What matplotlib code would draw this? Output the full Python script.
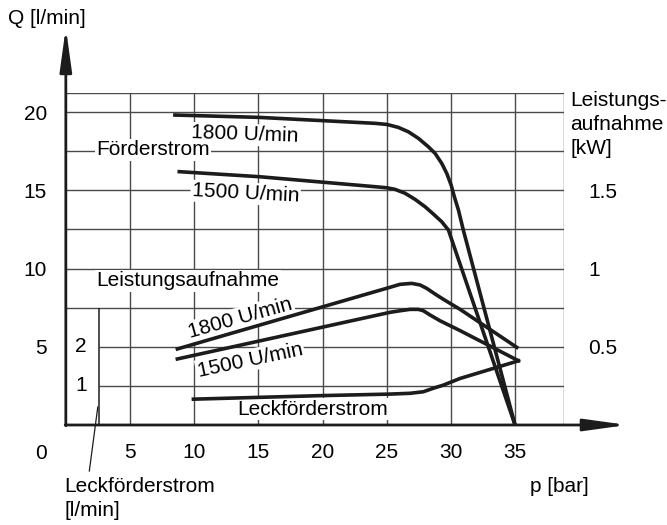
import numpy as np
import matplotlib
matplotlib.use('Agg')
import matplotlib.pyplot as plt

plt.rcParams['font.family'] = ['Liberation Sans', 'DejaVu Sans']
plt.rcParams['font.size'] = 15

# Foerderstrom Q [l/min] ueber Druck p [bar]
p_q1800 = [8.5, 15.05, 24.09, 25.01, 25.91, 26.69, 27.47, 28.25, 28.77, 29.29, 29.68,
           30.02, 30.27, 30.59, 30.97, 35.0]
q_1800 = [19.81, 19.66, 19.28, 19.21, 19.02, 18.74, 18.32, 17.78, 17.36, 16.72, 16.08,
          15.34, 14.59, 13.74, 12.46, 0.0]
p_q1500 = [8.84, 15.05, 24.09, 25.01, 25.65, 26.43, 27.21, 27.99, 28.64, 29.29, 29.81, 35.0]
q_1500 = [16.19, 15.87, 15.23, 15.16, 15.06, 14.81, 14.42, 13.95, 13.48, 12.99, 12.46, 0.0]

# Leistungsaufnahme [kW]
p_pw1800 = [8.69, 25.26, 26.04, 26.95, 27.6, 28.12, 28.77, 29.42, 30.72, 35.14]
pw_1800 = [0.486, 0.880, 0.899, 0.905, 0.895, 0.873, 0.837, 0.803, 0.739, 0.496]
p_pw1500 = [8.69, 25.26, 26.04, 26.82, 27.47, 27.86, 28.38, 29.16, 30.72, 35.26]
pw_1500 = [0.422, 0.720, 0.730, 0.739, 0.739, 0.730, 0.703, 0.666, 0.603, 0.411]

# Leckfoerderstrom [l/min]
p_leak = [9.94, 19.81, 25.26, 26.82, 27.86, 28.64, 29.42, 30.72, 35.26]
leak = [0.66, 0.75, 0.79, 0.81, 0.85, 0.94, 1.02, 1.19, 1.64]

p_ticks = [5, 10, 15, 20, 25, 30, 35]
q_ticks = [5, 10, 15, 20]
kw_ticks = [0.5, 1, 1.5]
kw_labels = ['0.5', '1', '1.5']
leak_ticks = [1, 2]

# scale factors for the secondary scales drawn in the Q grid
KW_TO_Q = 10.0
LEAK_TO_Q = 2.5
P_MAX, Q_MAX = 38.78, 21.25
LEAK_AXIS_X = 2.55

fig = plt.figure(figsize=(6.67, 5.25), dpi=100)
ax = fig.add_axes([0.0987, 0.1905, 0.7462, 0.6333])
ax.set_xlim(0, P_MAX)
ax.set_ylim(0, Q_MAX)
for s in ax.spines.values():
    s.set_visible(False)

ink = '#1c1c1c'
grid_c = '#4a4a4a'

# grid
ax.vlines(p_ticks + [P_MAX], 0, Q_MAX, color=grid_c, lw=1.0, zorder=1)
h_full = np.arange(7.5, 21, 2.5)
ax.hlines(list(h_full) + [Q_MAX], 0, P_MAX, color=grid_c, lw=1.0, zorder=1)
ax.hlines([2.5, 5.0], LEAK_AXIS_X, P_MAX, color=grid_c, lw=1.0, zorder=1)
# leak flow scale
ax.vlines(LEAK_AXIS_X, 0, 7.5, color=ink, lw=1.1, zorder=1)
ax.plot([2.49, 1.83], [1.15, -2.94], color=ink, lw=0.9, clip_on=False)
for v in leak_ticks:
    ax.text(1.2, v * LEAK_TO_Q, str(v), ha='center', va='center')

# axes with arrows
arrow = dict(arrowstyle='-|>,head_length=1.3,head_width=0.18', lw=2, color=ink,
             mutation_scale=20, shrinkA=0, shrinkB=0)
ax.annotate('', xy=(0, 25.4), xytext=(0, -0.05), annotation_clip=False, arrowprops=arrow)
ax.annotate('', xy=(43.75, 0), xytext=(-0.05, 0), annotation_clip=False, arrowprops=arrow)

ax.set_xticks(p_ticks)
ax.set_yticks(q_ticks)
ax.tick_params(axis='x', length=0, pad=13)
ax.tick_params(axis='y', length=0, pad=13.5)
ax.text(-1.46, -1.8, '0', ha='right', va='center')

ax2 = ax.twinx()
ax2.set_ylim(0, Q_MAX / KW_TO_Q)
for s in ax2.spines.values():
    s.set_visible(False)
ax2.set_yticks(kw_ticks)
ax2.set_yticklabels(kw_labels)
ax2.tick_params(axis='y', length=0, pad=18)

# curves
cw = 2.6
ax.plot(p_q1800, q_1800, color=ink, lw=cw, zorder=5, solid_joinstyle='round')
ax.plot(p_q1500, q_1500, color=ink, lw=cw, zorder=5, solid_joinstyle='round')
ax.plot(p_leak, np.array(leak) * LEAK_TO_Q, color=ink, lw=cw, zorder=5,
        solid_joinstyle='round')
ax2.plot(p_pw1800, pw_1800, color=ink, lw=cw, zorder=5, solid_joinstyle='round')
ax2.plot(p_pw1500, pw_1500, color=ink, lw=cw, zorder=5, solid_joinstyle='round')

box = dict(fc='white', ec='none', pad=1.0)
ax.text(6.8, 17.6, 'Förderstrom', ha='center', va='center', bbox=box, zorder=3)
ax.text(13.96, 18.55, '1800 U/min', ha='center', va='center', rotation=-2, bbox=box, zorder=3)
ax.text(14.0, 14.8, '1500 U/min', ha='center', va='center', rotation=-3, bbox=box, zorder=3)
ax.text(9.52, 9.22, 'Leistungsaufnahme', ha='center', va='center', bbox=box, zorder=3)
ax.text(13.61, 6.84, '1800 U/min', ha='center', va='center', rotation=15.6, bbox=box, zorder=3)
ax.text(14.35, 4.15, '1500 U/min', ha='center', va='center', rotation=12, bbox=box, zorder=3)
ax.text(19.26, 1.02, 'Leckförderstrom', ha='center', va='center', bbox=box, zorder=3)

ax.text(-4.5, 26.0, 'Q [l/min]', ha='left', va='center', clip_on=False)
ax.text(36.17, -3.94, 'p [bar]', ha='left', va='center', clip_on=False)
ax.text(-0.14, -3.3, 'Leckförderstrom\n[l/min]', ha='left', va='top', linespacing=1.35,
        clip_on=False)
ax.text(39.29, 21.35, 'Leistungs-\naufnahme\n[kW]', ha='left', va='top', linespacing=1.35,
        clip_on=False)

fig.savefig('out.png', dpi=100)
